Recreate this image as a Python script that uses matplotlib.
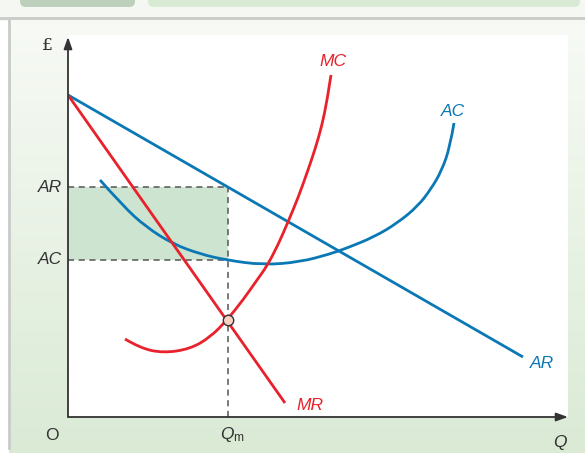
import numpy as np
import matplotlib.pyplot as plt
from matplotlib.patches import Rectangle, FancyBboxPatch, PathPatch
from matplotlib.path import Path

plt.rcParams['font.family'] = ['Liberation Sans', 'DejaVu Sans']
plt.rcParams['mathtext.fontset'] = 'custom'
plt.rcParams['mathtext.it'] = 'Liberation Sans:italic'
plt.rcParams['mathtext.rm'] = 'Liberation Sans'

# ---- data (arbitrary units)
ar_q = [0.0, 9.1]
ar_p = [6.44, 1.2]

mr_q = [0.0, 4.34]
mr_p = [6.44, 0.28]

mc_q = [1.14, 1.44, 1.90, 2.44, 2.85, 3.18, 3.50, 3.78, 3.98, 4.20, 4.40, 4.60, 4.78, 4.95, 5.08, 5.18, 5.26]
mc_p = [1.56, 1.38, 1.28, 1.36, 1.60, 1.94, 2.34, 2.74, 3.02, 3.44, 3.90, 4.38, 4.88, 5.38, 5.84, 6.32, 6.84]

ac_q = [0.64, 1.10, 1.56, 2.10, 2.64, 3.16, 3.90, 4.64, 5.24, 5.58, 6.12, 6.59, 7.00, 7.26, 7.47, 7.64, 7.72]
ac_p = [4.74, 4.22, 3.80, 3.46, 3.26, 3.14, 3.04, 3.10, 3.26, 3.38, 3.60, 3.88, 4.22, 4.56, 4.92, 5.40, 5.88]

qm = 3.2
p_ar = 4.6
p_ac = 3.14
p_eq = 1.94

red = '#e8212b'
blue = '#0b78b6'
dark = '#333333'


def smooth_curve(ax, xs, ys, color, z):
    # quadratic b-spline path through the read points as control points
    pts = list(zip(xs, ys))
    verts = [pts[0]]
    codes = [Path.MOVETO]
    for i in range(1, len(pts) - 1):
        if i < len(pts) - 2:
            end = ((pts[i][0] + pts[i + 1][0]) / 2, (pts[i][1] + pts[i + 1][1]) / 2)
        else:
            end = pts[-1]
        verts += [pts[i], end]
        codes += [Path.CURVE3, Path.CURVE3]
    ax.add_patch(PathPatch(Path(verts, codes), fc='none', ec=color, lw=2.0, zorder=z,
                           capstyle='butt'))


fig = plt.figure(figsize=(5.85, 4.57), dpi=100)

# ---- background frame (pixel coords)
bg = fig.add_axes([0, 0, 1, 1])
bg.set_xlim(0, 585)
bg.set_ylim(457, 0)
bg.axis('off')
grad = np.linspace(0, 1, 256)[:, None]
top_c = np.array([0.970, 0.980, 0.962])
bot_c = np.array([0.855, 0.918, 0.835])
img = top_c + (bot_c - top_c) * grad[:, :, None] * np.ones((1, 2, 1))
bg.imshow(img, extent=[9, 585, 453, 20], aspect='auto', zorder=0)
bg.add_patch(Rectangle((0, 0), 585, 20, color='#f4f7f2', zorder=0))
bg.add_patch(FancyBboxPatch((20, -10), 115, 17, boxstyle='round,pad=0,rounding_size=6',
                            fc='#bdd0bb', ec='none', zorder=1))
bg.add_patch(FancyBboxPatch((148, -10), 432, 17, boxstyle='round,pad=0,rounding_size=6',
                            fc='#d8ead4', ec='none', zorder=1))
bg.plot([0, 585], [18, 18], color='#c9cbc8', lw=2, zorder=2)
bg.plot([9, 9], [20, 448], color='#c9cbc8', lw=2, zorder=2)

# ---- main chart
ax = fig.add_axes([68 / 585, 40 / 457, 500 / 585, 382 / 457])
ax.set_xlim(0, 10)
ax.set_ylim(0, 7.64)
for s in ax.spines.values():
    s.set_visible(False)
ax.set_xticks([])
ax.set_yticks([])
ax.set_facecolor('white')

# profit area
ax.add_patch(Rectangle((0, p_ac), qm, p_ar - p_ac, fc='#cde4d1', ec='none', zorder=1))
dash = dict(color='#555555', lw=1.1, ls=(0, (4, 3)), zorder=2)
ax.plot([0, qm], [p_ar, p_ar], **dash)
ax.plot([0, qm], [p_ac, p_ac], **dash)
ax.plot([qm, qm], [0, p_ar], **dash)

ax.plot(ar_q, ar_p, color=blue, lw=2.0, zorder=3, solid_capstyle='butt')
smooth_curve(ax, ac_q, ac_p, blue, 3)
ax.plot(mr_q, mr_p, color=red, lw=2.0, zorder=4, solid_capstyle='butt')
smooth_curve(ax, mc_q, mc_p, red, 4)
ax.plot([qm], [p_eq], 'o', ms=7.5, mfc='#f9d1c1', mec=dark, mew=1, zorder=5)

# axes with arrows
ax.annotate('', xy=(0, 7.6), xytext=(0, 0), annotation_clip=False,
            arrowprops=dict(arrowstyle='-|>,head_length=0.7,head_width=0.25', color=dark, lw=1.3,
                            shrinkA=0, shrinkB=0), zorder=6)
ax.annotate('', xy=(10.0, 0), xytext=(0, 0), annotation_clip=False,
            arrowprops=dict(arrowstyle='-|>,head_length=0.7,head_width=0.25', color=dark, lw=1.3,
                            shrinkA=0, shrinkB=0), zorder=6)

fs = 12.5
ax.text(5.3, 7.1, 'MC', color=red, style='italic', fontsize=fs, ha='center', va='center')
ax.text(7.7, 6.12, 'AC', color=blue, style='italic', fontsize=fs, ha='center', va='center')
ax.text(4.84, 0.24, 'MR', color=red, style='italic', fontsize=fs, ha='center', va='center')
ax.text(9.48, 1.08, 'AR', color=blue, style='italic', fontsize=fs, ha='center', va='center')
ax.text(-0.12, p_ar, 'AR', color=dark, style='italic', fontsize=fs, ha='right', va='center', clip_on=False)
ax.text(-0.12, p_ac, 'AC', color=dark, style='italic', fontsize=fs, ha='right', va='center', clip_on=False)
ax.text(-0.32, -0.36, 'O', color=dark, fontsize=fs, ha='center', va='center', clip_on=False)
ax.text(qm + 0.08, -0.34, r'$Q_{\mathrm{m}}$', color=dark, fontsize=fs, ha='center', va='center', clip_on=False)
ax.text(9.84, -0.52, 'Q', color=dark, style='italic', fontsize=fs, ha='center', va='center', clip_on=False)
ax.text(-0.42, 7.44, '£', color=dark, fontsize=fs, ha='center', va='center', clip_on=False,
        family='DejaVu Serif')

fig.savefig('out.png', dpi=100)
